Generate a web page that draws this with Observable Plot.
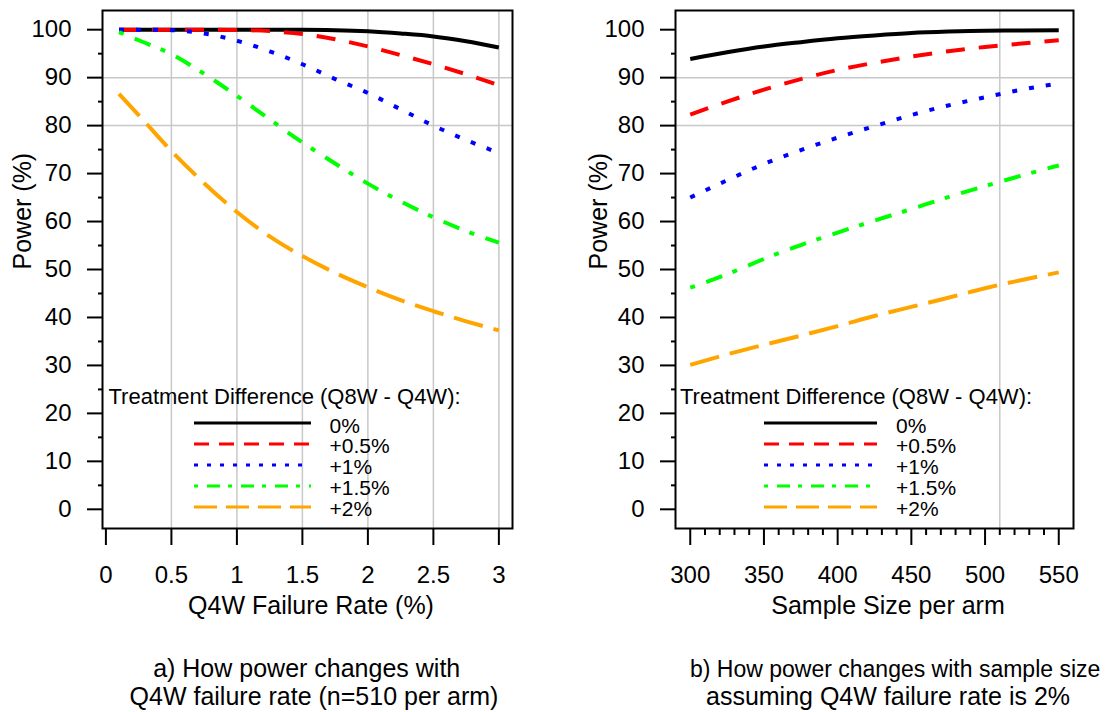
<!DOCTYPE html>
<html>
<head>
<meta charset="utf-8">
<script src="https://cdn.jsdelivr.net/npm/d3@7"></script>
<script src="https://cdn.jsdelivr.net/npm/@observablehq/plot@0.6"></script>
<style>
  html, body { margin: 0; padding: 0; background: #fff; }
  #wrap { position: relative; width: 1105px; height: 712px; overflow: hidden; font-family: "Liberation Sans", Arial, sans-serif; }
  .panel { position: absolute; top: 0; }
  #overlay { position: absolute; left: 0; top: 0; }
</style>
</head>
<body>
<div id="wrap">
  <div id="left" class="panel" style="left:0px"></div>
  <div id="right" class="panel" style="left:552px"></div>
  <svg id="overlay" width="1105" height="712"></svg>
</div>
<script>
// ---------- data ----------
const seriesLabels = ["0%", "+0.5%", "+1%", "+1.5%", "+2%"];
const legendTitle = "Treatment Difference (Q8W - Q4W):";
const yTitle = "Power (%)";

// Panel a: power vs Q4W failure rate (n = 510 per arm)
const failureRate = [0.1, 0.25, 0.5, 0.75, 1, 1.25, 1.5, 1.75, 2, 2.25, 2.5, 2.75, 3];
const powerA_0   = [100, 100, 100, 100, 100, 100, 100, 99.9, 99.65, 99.2, 98.6, 97.6, 96.3];
const powerA_05  = [100, 100, 100, 100, 99.95, 99.7, 99.1, 98.0, 96.5, 94.7, 92.8, 90.7, 88.4];
const powerA_1   = [100, 100, 99.9, 99.2, 97.7, 95.5, 92.8, 89.7, 86.8, 83.4, 80.0, 77.0, 74.3];
const powerA_15  = [99.5, 97.8, 94.9, 90.8, 86.2, 81.3, 76.5, 72.1, 67.9, 64.2, 60.9, 58.0, 55.6];
const powerA_2   = [86.6, 82.2, 74.7, 68.0, 62.0, 56.9, 52.8, 49.3, 46.3, 43.6, 41.3, 39.2, 37.3];

// Panel b: power vs sample size per arm (Q4W failure rate 2%)
const sampleSize = [300, 325, 350, 375, 400, 425, 450, 475, 500, 525, 550];
const powerB_0   = [93.9, 95.3, 96.5, 97.4, 98.2, 98.8, 99.3, 99.6, 99.8, 99.85, 99.9];
const powerB_05  = [82.3, 85.0, 87.5, 89.7, 91.6, 93.1, 94.4, 95.5, 96.4, 97.1, 97.8];
const powerB_1   = [65.0, 68.6, 72.0, 74.9, 77.5, 79.9, 82.2, 84.2, 85.9, 87.5, 88.8];
const powerB_15  = [46.2, 49.0, 52.2, 55.1, 57.7, 60.2, 62.6, 65.1, 67.4, 69.6, 71.7];
const powerB_2   = [30.1, 32.3, 34.3, 36.2, 38.2, 40.3, 42.2, 44.1, 46.1, 47.8, 49.4];

// ticks and reference lines
const yTicks = [0, 10, 20, 30, 40, 50, 60, 70, 80, 90, 100];
const yMinorTicks = [5, 15, 25, 35, 45, 55, 65, 75, 85, 95];
const xTicksA = [0, 0.5, 1, 1.5, 2, 2.5, 3];
const xTicksB = [300, 350, 400, 450, 500, 550];
const xMinorTicksB = [310, 320, 330, 340, 360, 370, 380, 390, 410, 420, 430, 440, 460, 470, 480, 490, 510, 520, 530, 540];
const gridYValues = [80, 90];
const gridXA = [0.5, 1, 1.5, 2, 2.5, 3];
const gridXB = [510];

const xTitleA = "Q4W Failure Rate (%)";
const xTitleB = "Sample Size per arm";
const captionA = ["a) How power changes with", "Q4W failure rate (n=510 per arm)"];
const captionB = ["b) How power changes with sample size", "assuming Q4W failure rate is 2%"];

// ---------- styles ----------
const colors = ["#000000", "#ff0000", "#0000ff", "#00ff00", "#ffa500"];
const dashData = [null, "19,14", "5,12", "5,12,17,11", "30,11"];
const dashLegend = [null, "15,10", "4,9", "4,9,13,8", "23,9"];
const FONT = '"Liberation Sans", Arial, sans-serif';

function panel(opts) {
  const {xs, ys, width, marginLeft, marginRight, xDomain, gridX, xTicks, xMinor, yTitleDx, xTitle, xTitleDx} = opts;
  const marks = [
    Plot.ruleX(gridX, {stroke: "#c8c8c8", strokeWidth: 1.5}),
    Plot.ruleY(gridYValues, {stroke: "#c8c8c8", strokeWidth: 1.5}),
    ...ys.map((arr, s) => Plot.line(arr.map((v, i) => ({x: xs[i], y: v})), {
      x: "x", y: "y", stroke: colors[s], strokeWidth: 4,
      strokeDasharray: dashData[s] || undefined, strokeLinecap: "butt", strokeLinejoin: "round",
      curve: "monotone-x"
    })),
    Plot.frame({stroke: "black", strokeWidth: 2}),
    Plot.axisY({ticks: yTicks, tickSize: 15, tickPadding: 16, strokeWidth: 2, label: null, fontSize: 24, tickFormat: d => String(d)}),
    Plot.axisY({ticks: yMinorTicks, tickSize: 4, strokeWidth: 2, label: null, tickFormat: () => ""}),
    Plot.axisX({ticks: xTicks, tickSize: 17, tickPadding: 20, strokeWidth: 2, label: null, fontSize: 24, tickFormat: d => String(d)}),
    Plot.text([yTitle], {frameAnchor: "left", dx: yTitleDx, rotate: -90, fontSize: 25}),
    Plot.text([xTitle], {frameAnchor: "bottom", dy: 85, dx: xTitleDx, fontSize: 25})
  ];
  if (xMinor) marks.push(Plot.axisX({ticks: xMinor, tickSize: 7, strokeWidth: 2, label: null, tickFormat: () => ""}));
  return Plot.plot({
    width, height: 640,
    marginLeft, marginRight, marginTop: 10, marginBottom: 112,
    x: {domain: xDomain},
    y: {domain: [-4, 104]},
    style: {fontFamily: FONT, fontSize: "24px", color: "#000", background: "transparent", overflow: "visible"},
    marks
  });
}

document.getElementById("left").append(panel({
  xs: failureRate, ys: [powerA_0, powerA_05, powerA_1, powerA_15, powerA_2],
  width: 552, marginLeft: 102, marginRight: 40,
  xDomain: [-0.026, 3.104], gridX: gridXA, xTicks: xTicksA, xMinor: null,
  yTitleDx: -80, xTitle: xTitleA, xTitleDx: 3.5
}));

document.getElementById("right").append(panel({
  xs: sampleSize, ys: [powerB_0, powerB_05, powerB_1, powerB_15, powerB_2],
  width: 553, marginLeft: 123, marginRight: 32,
  xDomain: [290, 560], gridX: gridXB, xTicks: xTicksB, xMinor: xMinorTicksB,
  yTitleDx: -76.5, xTitle: xTitleB, xTitleDx: 13.5
}));

// ---------- legends and captions ----------
const ov = d3.select("#overlay").style("font-family", FONT);
const legendPos = [
  {titleX: 108.5, x1: 194, x2: 311, labelX: 329.5},
  {titleX: 680, x1: 764, x2: 877, labelX: 896}
];
legendPos.forEach(p => {
  const g = ov.append("g");
  g.append("text").attr("x", p.titleX).attr("y", 404).attr("font-size", 22).attr("fill", "#000").text(legendTitle);
  seriesLabels.forEach((lab, i) => {
    const yl = 423 + 21 * i;
    g.append("line").attr("x1", p.x1).attr("x2", p.x2).attr("y1", yl).attr("y2", yl)
      .attr("stroke", colors[i]).attr("stroke-width", 3)
      .attr("stroke-dasharray", dashLegend[i] || null);
    g.append("text").attr("x", p.labelX).attr("y", 432.5 + 20.9 * i).attr("font-size", 21).attr("fill", "#000").text(lab);
  });
});

ov.append("text").attr("x", 306.7).attr("y", 676.5).attr("text-anchor", "middle").attr("font-size", 25).text(captionA[0]);
ov.append("text").attr("x", 314).attr("y", 705).attr("text-anchor", "middle").attr("font-size", 25).text(captionA[1]);
ov.append("text").attr("x", 690).attr("y", 676.5).attr("font-size", 23).text(captionB[0]);
ov.append("text").attr("x", 888).attr("y", 705).attr("text-anchor", "middle").attr("font-size", 25).text(captionB[1]);
</script>
</body>
</html>
